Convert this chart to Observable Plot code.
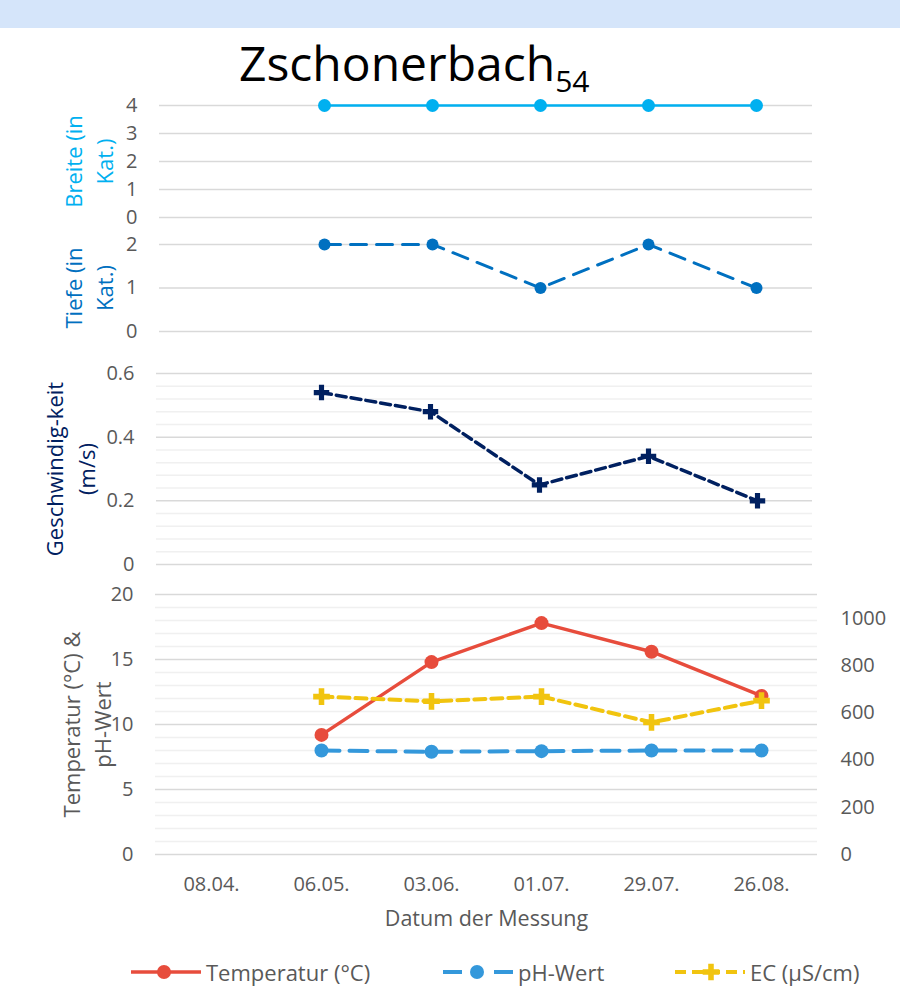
<!DOCTYPE html>
<html>
<head>
<meta charset="utf-8">
<script src="https://cdn.jsdelivr.net/npm/d3@7"></script>
<script src="https://cdn.jsdelivr.net/npm/@observablehq/plot@0.6"></script>
<style>
  body { margin: 0; background: #fff; font-family: "Open Sans", sans-serif; }
  #root { position: relative; width: 900px; height: 991px; overflow: hidden; background: #fff; }
  #band { position: absolute; left: 0; top: 0; width: 900px; height: 28px; background: #D5E5FA; }
  #title { position: absolute; left: 239px; top: 39px; font-size: 48px; line-height: 48px; color: #000; white-space: nowrap; }
  #title .sub { font-size: 30px; position: relative; top: 11px; }
  .panel { position: absolute; left: 0; }
  .leg { position: absolute; top: 958px; height: 28px; display: flex; align-items: center; font-size: 22px; color: #595959; white-space: nowrap; }
  .leg svg { margin-right: 5px; }
</style>
</head>
<body>
<div id="root">
  <div id="band"></div>
  <div id="title">Zschonerbach<span class="sub">54</span></div>
</div>
<script>
// ---------- data ----------
const dates = ["08.04.", "06.05.", "03.06.", "01.07.", "29.07.", "26.08."];
const breite = [null, 4, 4, 4, 4, 4];
const tiefe = [null, 2, 2, 1, 2, 1];
const geschw = [null, 0.54, 0.48, 0.25, 0.34, 0.20];
const temperatur = [null, 9.2, 14.8, 17.8, 15.6, 12.2];
const ph = [null, 8.0, 7.9, 7.95, 8.0, 8.0];
const ec = [null, 668, 648, 668, 559, 651];

const breiteTicks = [0, 1, 2, 3, 4];
const tiefeTicks = [0, 1, 2];
const geschwTicks = [0, 0.2, 0.4, 0.6];
const tempTicks = [0, 5, 10, 15, 20];
const ecTicks = [0, 200, 400, 600, 800, 1000];
const tempMax = 20;
const ecMax = 1100;

const seriesNames = ["Temperatur (°C)", "pH-Wert", "EC (µS/cm)"];
const axisTitles = {
  breite: "Breite (in\nKat.)",
  tiefe: "Tiefe (in\nKat.)",
  geschw: "Geschwindig-keit\n(m/s)",
  temp: "Temperatur (°C) &\npH-Wert"
};
const xTitle = "Datum der Messung";

// ---------- helpers ----------
const rows = dates.map((date, i) => ({
  date, breite: breite[i], tiefe: tiefe[i], geschw: geschw[i],
  temp: temperatur[i], ph: ph[i], ec: ec[i]
}));
const valid = key => rows.filter(d => d[key] != null);
const ecToLeft = v => v * tempMax / ecMax;

const C = {
  breite: "#00B0F0", tiefe: "#0070C0", geschw: "#002060",
  temp: "#E74C3C", ph: "#3498DB", ec: "#F1C40F",
  major: "#D9D9D9", minor: "#F0F0F0", text: "#595959"
};

const baseStyle = { fontFamily: "Open Sans", fontSize: "20px", color: C.text, background: "transparent", overflow: "visible" };

function panel({ top, height, mt, mb, ml, mr, domain, marks }) {
  const svg = Plot.plot({
    width: 900, height,
    marginTop: mt, marginBottom: mb, marginLeft: ml, marginRight: mr,
    x: { type: "point", domain: dates, padding: 0.5, axis: null },
    y: { domain, axis: null },
    style: baseStyle,
    marks
  });
  svg.classList.add("panel");
  svg.style.position = "absolute";
  svg.style.top = top + "px";
  svg.style.left = "0px";
  document.getElementById("root").appendChild(svg);
}

const yAxis = (ticks, fmt) => Plot.axisY(ticks, { tickSize: 0, tickPadding: 22, label: null, fontSize: 20, tickFormat: fmt });
const title = (txt, color, dx, lh) => Plot.text([txt], {
  text: d => d, frameAnchor: "left", dx, rotate: -90, fill: color,
  fontSize: 22, lineHeight: lh, textAnchor: "middle", lineAnchor: "middle"
});

// ---------- Panel 1: Breite ----------
panel({
  top: 95, height: 135, mt: 10, mb: 13, ml: 159, mr: 88, domain: [0, 4],
  marks: [
    Plot.ruleY(breiteTicks, { stroke: C.major, strokeWidth: 1.5 }),
    Plot.line(valid("breite"), { x: "date", y: "breite", stroke: C.breite, strokeWidth: 2.5 }),
    Plot.dot(valid("breite"), { x: "date", y: "breite", fill: C.breite, r: 6.5 }),
    yAxis(breiteTicks),
    title(axisTitles.breite, C.breite, -72, 1.4)
  ]
});

// ---------- Panel 2: Tiefe ----------
panel({
  top: 230, height: 115, mt: 14, mb: 14, ml: 159, mr: 88, domain: [0, 2],
  marks: [
    Plot.ruleY(tiefeTicks, { stroke: C.major, strokeWidth: 1.5 }),
    Plot.line(valid("tiefe"), { x: "date", y: "tiefe", stroke: C.tiefe, strokeWidth: 3, strokeDasharray: "16,10" }),
    Plot.dot(valid("tiefe"), { x: "date", y: "tiefe", fill: C.tiefe, r: 6 }),
    yAxis(tiefeTicks),
    title(axisTitles.tiefe, C.tiefe, -72, 1.4)
  ]
});

// ---------- Panel 3: Geschwindigkeit ----------
const geschwMinor = d3.range(0, 16).filter(i => i % 5 !== 0).map(i => i * 0.04);
panel({
  top: 345, height: 233, mt: 28, mb: 14, ml: 156, mr: 88, domain: [0, 0.6],
  marks: [
    Plot.ruleY(geschwMinor, { stroke: C.minor, strokeWidth: 1.5 }),
    Plot.ruleY(geschwTicks, { stroke: C.major, strokeWidth: 1.5 }),
    Plot.line(valid("geschw"), { x: "date", y: "geschw", stroke: C.geschw, strokeWidth: 3.5, strokeDasharray: "10,5" }),
    Plot.dot(valid("geschw"), { x: "date", y: "geschw", fill: C.geschw, symbol: "cross", r: 6.5 }),
    yAxis(geschwTicks, d => d === 0 ? "0" : d.toFixed(1)),
    title(axisTitles.geschw, C.geschw, -88, 1.45)
  ]
});

// ---------- Panel 4: Temperatur, pH, EC ----------
const tempMinor = d3.range(0, 21).filter(v => v % 5 !== 0);
panel({
  top: 578, height: 357, mt: 16, mb: 81, ml: 155, mr: 83, domain: [0, tempMax],
  marks: [
    Plot.ruleY(tempMinor, { stroke: C.minor, strokeWidth: 1.5 }),
    Plot.ruleY(tempTicks, { stroke: C.major, strokeWidth: 1.5 }),
    Plot.line(valid("temp"), { x: "date", y: "temp", stroke: C.temp, strokeWidth: 3.5 }),
    Plot.dot(valid("temp"), { x: "date", y: "temp", fill: C.temp, r: 7 }),
    Plot.line(valid("ph"), { x: "date", y: "ph", stroke: C.ph, strokeWidth: 4, strokeDasharray: "18,10" }),
    Plot.dot(valid("ph"), { x: "date", y: "ph", fill: C.ph, r: 7 }),
    Plot.line(valid("ec"), { x: "date", y: d => ecToLeft(d.ec), stroke: C.ec, strokeWidth: 4, strokeDasharray: "11,6" }),
    Plot.dot(valid("ec"), { x: "date", y: d => ecToLeft(d.ec), fill: C.ec, symbol: "cross", r: 7 }),
    yAxis(tempTicks),
    Plot.axisY(ecTicks.map(ecToLeft), { anchor: "right", tickSize: 0, tickPadding: 23, label: null, fontSize: 20,
      tickFormat: v => String(Math.round(v * ecMax / tempMax)) }),
    Plot.axisX(dates, { tickSize: 0, tickPadding: 22, label: null, fontSize: 20 }),
    Plot.text([xTitle], { text: d => d, frameAnchor: "bottom", dy: 71, fontSize: 21.5, fill: C.text }),
    title(axisTitles.temp, C.text, -70, 1.4)
  ]
});

// ---------- Legend ----------
const root = document.getElementById("root");
const ns = "http://www.w3.org/2000/svg";
function legendItem(left, name, draw) {
  const div = document.createElement("div");
  div.className = "leg";
  div.style.left = left + "px";
  const s = document.createElementNS(ns, "svg");
  s.setAttribute("width", 70); s.setAttribute("height", 20);
  s.innerHTML = draw;
  div.appendChild(s);
  const span = document.createElement("span");
  span.textContent = name;
  div.appendChild(span);
  root.appendChild(div);
}
const crossPath = (cx, cy, r, fill) => {
  const sym = d3.symbol(d3.symbolCross, Math.PI * r * r)();
  return `<path transform="translate(${cx},${cy})" d="${sym}" fill="${fill}"/>`;
};
legendItem(131, seriesNames[0],
  `<line x1="0" y1="10" x2="70" y2="10" stroke="${C.temp}" stroke-width="3.5"/><circle cx="33" cy="10" r="7" fill="${C.temp}"/>`);
legendItem(443, seriesNames[1],
  `<line x1="0" y1="10" x2="19" y2="10" stroke="${C.ph}" stroke-width="4"/><circle cx="34" cy="10" r="7" fill="${C.ph}"/><line x1="51" y1="10" x2="70" y2="10" stroke="${C.ph}" stroke-width="4"/>`);
legendItem(675, seriesNames[2],
  `<line x1="0" y1="10" x2="70" y2="10" stroke="${C.ec}" stroke-width="4" stroke-dasharray="11,6"/>` + crossPath(36, 10, 7, C.ec));
</script>
</body>
</html>
